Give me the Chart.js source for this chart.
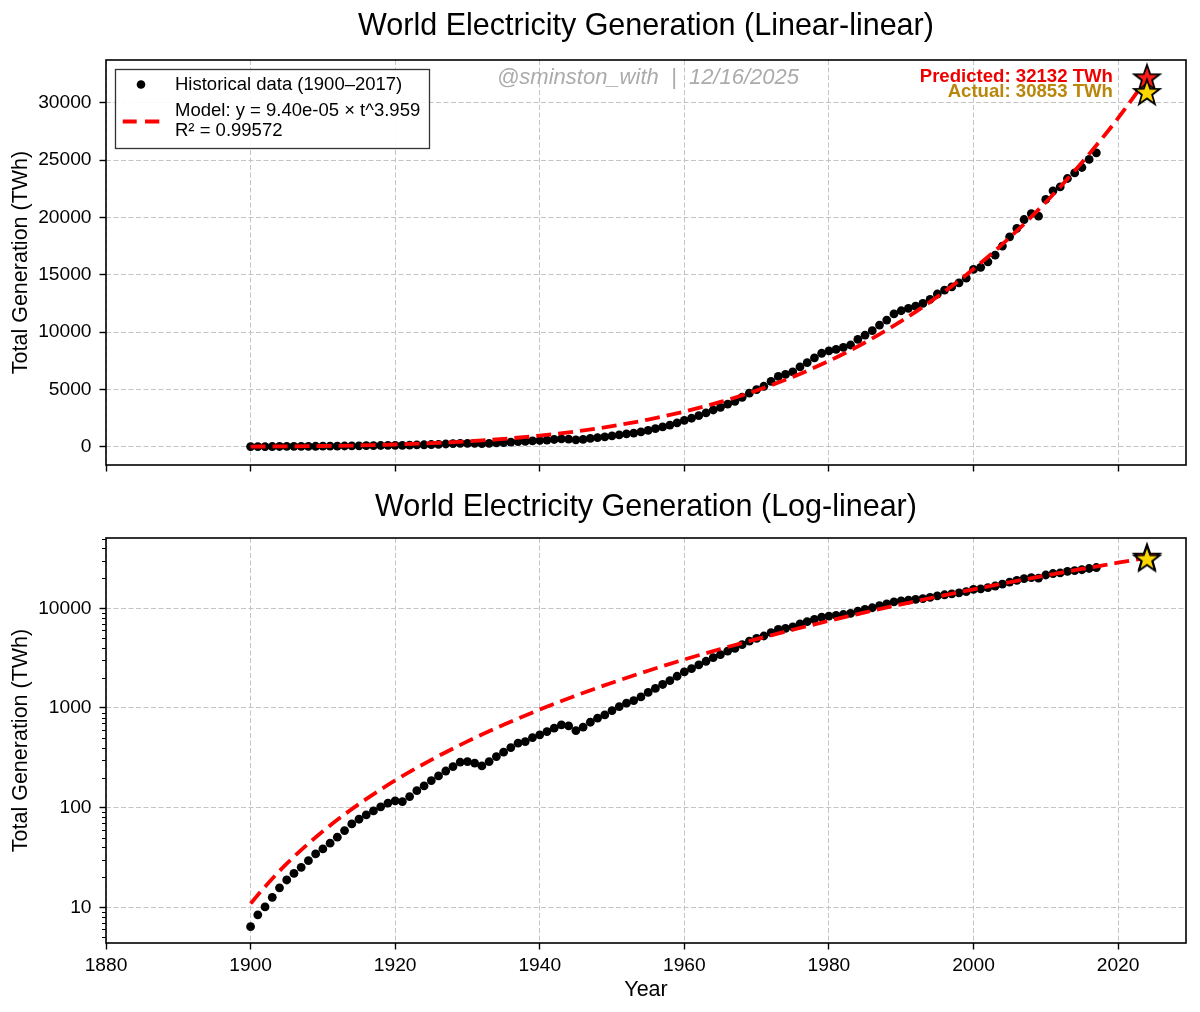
<!DOCTYPE html>
<html><head><meta charset="utf-8">
<script src="https://cdn.jsdelivr.net/npm/chart.js@4.4.1/dist/chart.umd.min.js"></script>
<style>
html,body{margin:0;padding:0;background:#fff;}
#wrap{position:relative;width:1200px;height:1012px;background:#fff;}
#c1{position:absolute;left:0;top:0;}
#c2{position:absolute;left:0;top:480px;}
</style></head><body>
<div id="wrap"><canvas id="c1" width="1200" height="480"></canvas><canvas id="c2" width="1200" height="532"></canvas></div>
<script>
// ---------------- DATA ----------------
const years = [1900,1901,1902,1903,1904,1905,1906,1907,1908,1909,
  1910,1911,1912,1913,1914,1915,1916,1917,1918,1919,
  1920,1921,1922,1923,1924,1925,1926,1927,1928,1929,
  1930,1931,1932,1933,1934,1935,1936,1937,1938,1939,
  1940,1941,1942,1943,1944,1945,1946,1947,1948,1949,
  1950,1951,1952,1953,1954,1955,1956,1957,1958,1959,
  1960,1961,1962,1963,1964,1965,1966,1967,1968,1969,
  1970,1971,1972,1973,1974,1975,1976,1977,1978,1979,
  1980,1981,1982,1983,1984,1985,1986,1987,1988,1989,
  1990,1991,1992,1993,1994,1995,1996,1997,1998,1999,
  2000,2001,2002,2003,2004,2005,2006,2007,2008,2009,
  2010,2011,2012,2013,2014,2015,2016,2017];
const generation = [6.4,8.4,10.1,12.6,15.7,18.8,21.9,25.2,29.4,34.3,
  38.5,44,50.5,58.9,68.6,76.5,84.5,92.7,102,111,
  117,115,129,148,165,187,208,233,258,286,
  290,279,262,290,325,360,400,443,460,505,
  537,580,627,676,661,593,641,719,789,851,
  942,1033,1116,1186,1290,1430,1570,1720,1880,2080,
  2300,2480,2700,2940,3200,3430,3720,3960,4310,4680,
  4980,5270,5700,6130,6300,6520,6960,7340,7750,8150,
  8350,8490,8660,8870,9360,9740,10120,10610,11050,11580,
  11860,12070,12270,12500,12850,13320,13660,13950,14300,14700,
  15470,15650,16130,16720,17500,18310,19040,19820,20340,20110,
  21570,22320,22670,23400,23890,24360,25060,25640];
const modelYears = [1900,1901,1902,1905,1910,1915,1920,1925,1930,1935,1940,1945,1950,1955,1960,1965,1970,1975,1980,1985,1990,1995,2000,2005,2010,2015,2020,2024];
const modelValues = [10.9,13.3,16.1,27.4,57.9,108.7,187.2,301.7,461.9,678.6,963.6,1330,1791,2362,3060,3902,4906,6090,7477,9089,10948,13075,15499,18239,21326,24795,28661,32132];
const predictionYears = [2024];
const predictedValues = [32132];
const actualValues = [30853];
const xTickValues = [1880,1900,1920,1940,1960,1980,2000,2020];
const linearTickValues = [0,5000,10000,15000,20000,25000,30000];
const logTickValues = [10,100,1000,10000];
const chartTitles = ['World Electricity Generation (Linear-linear)','World Electricity Generation (Log-linear)'];
const yAxisTitle = 'Total Generation (TWh)';
const xAxisTitle = 'Year';
const legendLabels = ['Historical data (1900–2017)','Model: y = 9.40e-05 × t^3.959','R² = 0.99572'];
const annotationLabels = ['Predicted: 32132 TWh','Actual: 30853 TWh'];
const watermarkText = '@sminston_with  |  12/16/2025';

// ---------------- STYLE ----------------
const FONT = '"Liberation Sans", Arial, Helvetica, sans-serif';
Chart.defaults.font.family = FONT;
Chart.defaults.color = '#000';
const GRID = '#c4c4c4';

function makeStar(fill){
  const s = 34, c = document.createElement('canvas');
  c.width = s; c.height = s;
  const g = c.getContext('2d');
  const R = 13.5, r = R * 0.40;
  g.beginPath();
  for (let i = 0; i < 10; i++) {
    const a = -Math.PI/2 + i*Math.PI/5;
    const rr = i % 2 ? r : R;
    g.lineTo(s/2 + rr*Math.cos(a), s/2 + rr*Math.sin(a));
  }
  g.closePath();
  g.fillStyle = fill; g.fill();
  g.lineWidth = 1.8; g.strokeStyle = '#000'; g.lineJoin = 'miter'; g.stroke();
  return c;
}
const redStar = makeStar('#ff1a1a');
const goldStar = makeStar('#ffd700');

function buildDatasets(){
  return [
    {label:'Actual', data: predictionYears.map((x,i)=>({x, y: actualValues[i]})), pointStyle: goldStar, pointRadius: 13, order: 0},
    {label:'Predicted', data: predictionYears.map((x,i)=>({x, y: predictedValues[i]})), pointStyle: redStar, pointRadius: 13, order: 1},
    {label:'Model', type:'line', data: modelYears.map((x,i)=>({x, y: modelValues[i]})), borderColor:'#ff0000', borderWidth:3.8, borderDash:[15,7], pointRadius:0, cubicInterpolationMode:'monotone', fill:false, order: 2},
    {label:'Historical', data: years.map((x,i)=>({x, y: generation[i]})), pointRadius:4.4, pointBackgroundColor:'#000', pointBorderColor:'#000', pointBorderWidth:0, order: 3}
  ];
}

function xScale(showLabels, height){
  return {
    type:'linear', min:1880, max:2029.4,
    afterBuildTicks: s => { s.ticks = xTickValues.map(v => ({value:v})); },
    afterFit: s => { s.height = height; s.paddingLeft = 0; s.paddingRight = 0; },
    ticks:{display:showLabels, autoSkip:false, maxRotation:0, padding:5, font:{size:19.2}, color:'#000', callback: v => String(v)},
    grid:{color:GRID, lineWidth:1, drawTicks:true, tickLength:6.5, tickColor:'#000', tickWidth:1.4, tickBorderDash:[]},
    border:{display:false, dash:[5,2.5]},
    title: showLabels ? {display:true, text:xAxisTitle, font:{size:21.5}, color:'#000', padding:{top:0, bottom:9}} : {display:false}
  };
}
function yCommon(){
  return {
    afterFit: s => { s.width = 106; s.paddingTop = 0; s.paddingBottom = 0; },
    ticks:{autoSkip:false, padding:8, font:{size:19.2}, color:'#000', callback: v => String(v)},
    grid:{color:GRID, lineWidth:1, drawTicks:true, tickLength:6.5, tickColor:'#000', tickWidth:1.4, tickBorderDash:[]},
    border:{display:false, dash:[5,2.5]},
    title:{display:true, text:yAxisTitle, font:{size:21.5}, color:'#000', padding:{top:8.6, bottom:0}}
  };
}

const framePlugin = {
  id:'frame',
  afterDraw(chart){
    const a = chart.chartArea, ctx = chart.ctx;
    ctx.save();
    ctx.strokeStyle = '#000'; ctx.lineWidth = 1.6;
    ctx.strokeRect(a.left, a.top, a.right - a.left, a.bottom - a.top);
    ctx.restore();
  }
};

const minorTicksPlugin = {
  id:'minorTicks',
  afterDraw(chart){
    const s = chart.scales.y, ctx = chart.ctx;
    ctx.save(); ctx.strokeStyle = '#000'; ctx.lineWidth = 1;
    for (let e = 0; e < 6; e++) {
      for (let m = 2; m < 10; m++) {
        const v = m * Math.pow(10, e);
        if (v < s.min || v > s.max) continue;
        const py = Math.round(s.getPixelForValue(v)) + 0.5;
        ctx.beginPath(); ctx.moveTo(s.right - 4, py); ctx.lineTo(s.right, py); ctx.stroke();
      }
    }
    ctx.restore();
  }
};

const decorPlugin = {
  id:'decor',
  afterDraw(chart){
    const ctx = chart.ctx, xs = chart.scales.x, ys = chart.scales.y, a = chart.chartArea;
    ctx.save();
    // watermark
    ctx.font = 'italic 22px ' + FONT;
    ctx.fillStyle = '#ababab';
    ctx.textAlign = 'center'; ctx.textBaseline = 'middle';
    ctx.fillText(watermarkText, (a.left + a.right)/2 + 2, 78);
    // annotations next to stars
    ctx.font = 'bold 18.6px ' + FONT;
    ctx.textAlign = 'right';
    const ax = xs.getPixelForValue(predictionYears[0]) - 34;
    ctx.fillStyle = '#ee0000';
    ctx.fillText(annotationLabels[0], ax, ys.getPixelForValue(predictedValues[0]) - 1.5);
    ctx.fillStyle = '#b8860b';
    ctx.fillText(annotationLabels[1], ax, ys.getPixelForValue(actualValues[0]) - 1.5);
    // legend
    ctx.fillStyle = 'rgba(255,255,255,0.9)';
    ctx.fillRect(115.5, 69.5, 314, 79);
    ctx.strokeStyle = '#333'; ctx.lineWidth = 1.3;
    ctx.strokeRect(115.5, 69.5, 314, 79);
    ctx.fillStyle = '#000';
    ctx.beginPath(); ctx.arc(141, 84.5, 4.3, 0, Math.PI*2); ctx.fill();
    ctx.strokeStyle = '#ff0000'; ctx.lineWidth = 3.8;
    ctx.beginPath(); ctx.moveTo(122.7, 121.5); ctx.lineTo(136.7, 121.5); ctx.moveTo(145, 121.5); ctx.lineTo(159.3, 121.5); ctx.stroke();
    ctx.font = '18.5px ' + FONT;
    ctx.fillStyle = '#000'; ctx.textAlign = 'left'; ctx.textBaseline = 'middle';
    ctx.fillText(legendLabels[0], 175, 84.5);
    ctx.fillText(legendLabels[1], 175, 111);
    ctx.fillText(legendLabels[2], 175, 131);
    ctx.restore();
  }
};

const common = {
  responsive:false, animation:false, events:[],
  layout:{padding:{left:0, right:12, top:0, bottom:0}},
};

new Chart(document.getElementById('c1'), {
  type:'scatter',
  data:{datasets: buildDatasets()},
  options: Object.assign({}, common, {
    plugins:{
      legend:{display:false}, tooltip:{enabled:false},
      title:{display:true, text:chartTitles[0], fullSize:false, color:'#000', font:{size:30.5, weight:'normal', lineHeight:1.2}, padding:{top:8.7, bottom:14.7}}
    },
    scales:{
      x: xScale(false, 15),
      y: Object.assign(yCommon(), {type:'linear', min:-1600, max:33740,
        afterBuildTicks: s => { s.ticks = linearTickValues.map(v => ({value:v})); }})
    }
  }),
  plugins:[framePlugin, decorPlugin]
});

new Chart(document.getElementById('c2'), {
  type:'scatter',
  data:{datasets: buildDatasets()},
  options: Object.assign({}, common, {
    plugins:{
      legend:{display:false}, tooltip:{enabled:false},
      title:{display:true, text:chartTitles[1], fullSize:false, color:'#000', font:{size:30.5, weight:'normal', lineHeight:1.2}, padding:{top:9.7, bottom:11.7}}
    },
    scales:{
      x: xScale(true, 69),
      y: Object.assign(yCommon(), {type:'logarithmic', min:4.385, max:50700,
        afterBuildTicks: s => { s.ticks = logTickValues.map(v => ({value:v, major:true})); }})
    }
  }),
  plugins:[framePlugin, minorTicksPlugin]
});
</script>
</body></html>
